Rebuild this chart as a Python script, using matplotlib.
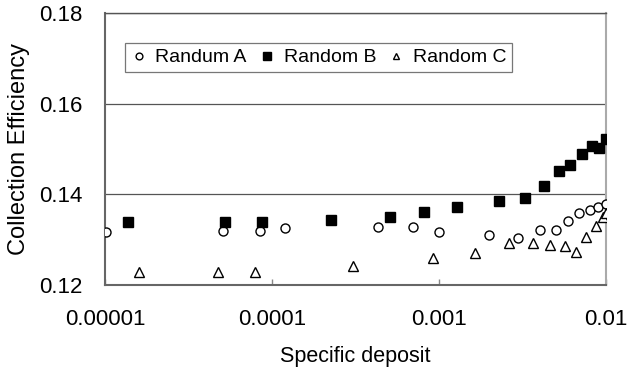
import matplotlib.pyplot as plt
from matplotlib.ticker import FixedLocator, NullLocator

plt.rcParams['font.family'] = ['Liberation Sans', 'DejaVu Sans']

# Randum A (open circles)
xa = [1.02e-5, 5.1e-5, 8.5e-5, 1.2e-4, 4.3e-4, 7.0e-4, 1.0e-3, 2.0e-3, 2.97e-3,
      4.0e-3, 5.0e-3, 5.9e-3, 6.9e-3, 8.0e-3, 9.0e-3, 1.0e-2]
ya = [0.1316, 0.1320, 0.1320, 0.1325, 0.1327, 0.1327, 0.1316, 0.1311, 0.1303,
      0.1322, 0.1322, 0.1342, 0.1358, 0.1366, 0.1373, 0.1379]

# Random B (filled squares)
xb = [1.38e-5, 5.2e-5, 8.7e-5, 2.24e-4, 5.06e-4, 8.1e-4, 1.29e-3, 2.29e-3, 3.27e-3,
      4.25e-3, 5.25e-3, 6.1e-3, 7.2e-3, 8.27e-3, 9.1e-3, 1.0e-2]
yb = [0.1340, 0.1340, 0.1340, 0.1344, 0.1350, 0.1362, 0.1373, 0.1385, 0.1392,
      0.1418, 0.1452, 0.1464, 0.1490, 0.1507, 0.1502, 0.1522]

# Random C (open triangles)
xc = [1.6e-5, 4.74e-5, 7.9e-5, 3.05e-4, 9.2e-4, 1.65e-3, 2.62e-3, 3.63e-3, 4.6e-3,
      5.67e-3, 6.6e-3, 7.6e-3, 8.67e-3, 9.6e-3, 1.0e-2]
yc = [0.1229, 0.1229, 0.1229, 0.1241, 0.1259, 0.1270, 0.1292, 0.1292, 0.1288,
      0.1285, 0.1273, 0.1305, 0.1330, 0.1351, 0.1358]

xticks = [1e-5, 1e-4, 1e-3, 1e-2]
xtick_labels = ['0.00001', '0.0001', '0.001', '0.01']
yticks = [0.12, 0.14, 0.16, 0.18]

fig = plt.figure(figsize=(6.27, 3.70), dpi=100)
ax = fig.add_axes([0.1675, 0.2297, 0.799, 0.735])

for y in yticks[1:]:
    ax.axhline(y, color='#555555', lw=0.9, zorder=1)

ax.plot(xa, ya, 'o', ms=6.5, mfc='white', mec='black', mew=1.0, ls='none', label='Randum A', zorder=3)
ax.plot(xb, yb, 's', ms=7.5, mfc='black', mec='black', ls='none', label='Random B', zorder=3)
ax.plot(xc, yc, '^', ms=6.5, mfc='white', mec='black', mew=1.0, ls='none', label='Random C', zorder=3)

ax.set_xscale('log')
ax.set_xlim(1e-5, 1e-2)
ax.set_ylim(0.12, 0.18)
ax.xaxis.set_major_locator(FixedLocator(xticks))
ax.xaxis.set_minor_locator(NullLocator())
ax.set_xticklabels(xtick_labels)
ax.set_yticks(yticks)
ax.set_yticklabels(['0.12', '0.14', '0.16', '0.18'])

ax.tick_params(axis='x', direction='in', length=4, color='#888888', width=1,
               labelsize=16, pad=17)
ax.tick_params(axis='y', length=0, labelsize=16, pad=16.5)

for side in ['left', 'bottom']:
    ax.spines[side].set_color('#666666')
    ax.spines[side].set_linewidth(1.5)
ax.spines['right'].set_color('#aaaaaa')
ax.spines['right'].set_linewidth(1.5)
ax.spines['top'].set_color('#555555')
ax.spines['top'].set_linewidth(1.0)

ax.set_xlabel('Specific deposit', fontsize=15.5, labelpad=12)
ax.set_ylabel('Collection Efficiency', fontsize=17, labelpad=6.5)

leg = ax.legend(loc='upper left', bbox_to_anchor=(0.04, 0.89), borderaxespad=0,
                ncol=3, fontsize=14, frameon=True, fancybox=False,
                edgecolor='#555555', handletextpad=0.45, columnspacing=0.65,
                handlelength=0.8, borderpad=0.3, markerscale=0.75)
leg.get_frame().set_linewidth(0.9)

fig.savefig('out.png', dpi=100, facecolor='white')
